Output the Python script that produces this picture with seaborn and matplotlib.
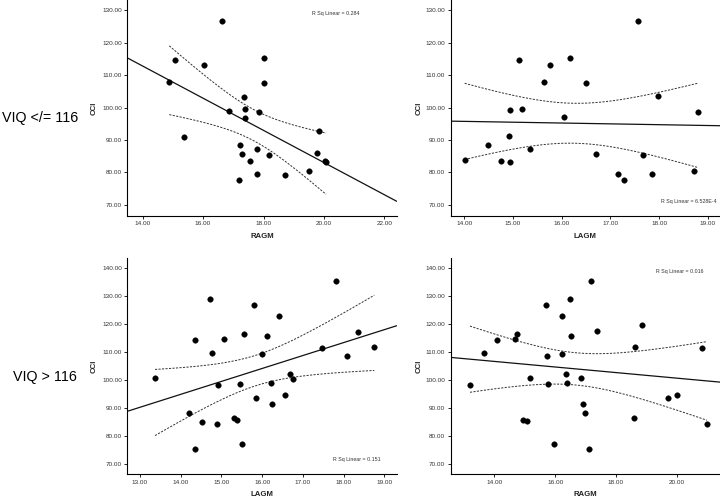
import numpy as np
import pandas as pd
import matplotlib
matplotlib.use("Agg")
import matplotlib.pyplot as plt
import seaborn as sns

# ---------------- data ----------------
# VIQ </= 116 : RAGM vs CCI
p1_x = [14.88, 15.08, 15.38, 16.03, 16.62, 16.87, 17.34, 17.39, 17.38, 17.23, 17.28, 17.19, 17.54,
        17.80, 17.78, 17.86, 18.00, 18.01, 18.17, 18.70, 19.50, 19.76, 19.83, 20.04, 20.07]
p1_y = [107.8, 114.6, 91.0, 113.0, 126.5, 99.0, 103.3, 99.5, 96.9, 88.5, 85.6, 77.7, 83.4,
        87.1, 79.5, 98.5, 115.1, 107.4, 85.4, 79.2, 80.4, 85.9, 92.8, 83.6, 83.2]
# VIQ </= 116 : LAGM vs CCI
p2_x = [14.01, 14.49, 14.75, 14.92, 14.94, 14.94, 15.13, 15.19, 15.35, 15.64, 15.77, 16.05,
        16.18, 16.51, 16.70, 17.15, 17.28, 17.57, 17.68, 17.86, 17.97, 18.71, 18.80]
p2_y = [83.8, 88.6, 83.6, 91.2, 99.1, 83.3, 114.6, 99.6, 87.2, 107.9, 113.0, 97.0,
        115.2, 107.5, 85.7, 79.6, 77.8, 126.5, 85.5, 79.4, 103.4, 80.5, 98.7]
# VIQ > 116 : LAGM vs CCI
p3_x = [13.37, 14.20, 14.34, 14.35, 14.52, 14.72, 14.78, 14.89, 14.91, 15.07, 15.31, 15.39,
        15.45, 15.51, 15.55, 15.81, 15.86, 15.99, 16.12, 16.22, 16.23, 16.41, 16.56, 16.68,
        16.75, 17.46, 17.81, 18.09, 18.34, 18.75]
p3_y = [100.6, 88.2, 114.2, 75.3, 85.0, 129.0, 109.5, 84.2, 98.2, 114.7, 86.2, 85.5,
        98.4, 77.2, 116.5, 126.7, 93.5, 109.2, 115.6, 98.9, 91.5, 122.9, 94.5, 102.1,
        100.5, 111.3, 135.5, 108.6, 117.3, 111.9]
# VIQ > 116 : RAGM vs CCI
p4_x = [13.20, 13.65, 14.09, 14.69, 14.75, 14.95, 15.08, 15.16, 15.72, 15.71, 15.75, 15.97,
        16.24, 16.24, 16.35, 16.38, 16.49, 16.53, 16.86, 16.93, 16.98, 17.10, 17.18, 17.38,
        18.60, 18.61, 18.87, 19.72, 20.00, 20.84, 20.99]
p4_y = [98.2, 109.5, 114.3, 114.7, 116.5, 85.5, 85.2, 100.6, 108.7, 126.7, 98.4, 77.2,
        123.0, 109.2, 102.1, 98.9, 129.0, 115.6, 100.6, 91.5, 88.2, 75.3, 135.6, 117.4,
        86.2, 111.8, 119.8, 93.5, 94.5, 111.3, 84.2]

x_labels = ["RAGM", "LAGM", "LAGM", "RAGM"]
y_label = "CCI"
r2_texts = ["R Sq Linear = 0.284", "R Sq Linear = 6.528E-4",
            "R Sq Linear = 0.151", "R Sq Linear = 0.016"]
row_labels = ["VIQ </= 116", "VIQ > 116"]
x_ticks = [[14, 16, 18, 20, 22], [14, 15, 16, 17, 18, 19],
           [13, 14, 15, 16, 17, 18, 19], [14, 16, 18, 20]]
y_ticks_top = [70, 80, 90, 100, 110, 120, 130]
y_ticks_bot = [70, 80, 90, 100, 110, 120, 130, 140]

# ---------------- style ----------------
sns.set_theme(style="white")
plt.rcParams["font.family"] = ["Liberation Sans", "DejaVu Sans"]

W, H = 720, 497
fig = plt.figure(figsize=(W / 100, H / 100), dpi=100)
fig.patch.set_facecolor("white")


def px_axes(left, right, top, bottom):
    return fig.add_axes([left / W, 1 - bottom / H, (right - left) / W, (bottom - top) / H])


def t975(df):
    z = 1.959964
    return (z + (z**3 + z) / (4 * df) + (5 * z**5 + 16 * z**3 + 3 * z) / (96 * df**2)
            + (3 * z**7 + 19 * z**5 + 17 * z**3 - 15 * z) / (384 * df**3))


panels = [
    dict(x=p1_x, y=p1_y, box=(127.3, 396.7, 0, 216), xlim=(13.49, 22.41), ylim=(66.6, 133.1),
         yt=y_ticks_top, txt=(336, 14), ylab_px=98),
    dict(x=p2_x, y=p2_y, box=(450.5, 720, 0, 216), xlim=(13.72, 19.25), ylim=(66.6, 133.1),
         yt=y_ticks_top, txt=(689, 201), ylab_px=423),
    dict(x=p3_x, y=p3_y, box=(127.3, 396.7, 258.3, 474.3), xlim=(12.69, 19.30), ylim=(66.2, 143.6),
         yt=y_ticks_bot, txt=(357, 459), ylab_px=98),
    dict(x=p4_x, y=p4_y, box=(450.5, 720, 258.3, 474.3), xlim=(12.56, 21.42), ylim=(66.2, 143.6),
         yt=y_ticks_bot, txt=(680, 271), ylab_px=423),
]

for i, p in enumerate(panels):
    l, r, t, b = p["box"]
    ax = px_axes(l, r, t, b)
    ax.set_facecolor("white")
    df = pd.DataFrame({"x": p["x"], "y": p["y"]})

    ax.set_xlim(*p["xlim"])
    ax.set_ylim(*p["ylim"])

    # regression fit over full axis, CI over data range
    x = np.asarray(p["x"], float)
    y = np.asarray(p["y"], float)
    n = len(x)
    slope, icpt = np.polyfit(x, y, 1)
    resid = y - (slope * x + icpt)
    s = np.sqrt(np.sum(resid**2) / (n - 2))
    sxx = np.sum((x - x.mean())**2)
    xf = np.linspace(p["xlim"][0], p["xlim"][1], 50)
    ax.plot(xf, slope * xf + icpt, color="#111111", lw=0.9, zorder=2)
    xc = np.linspace(x.min(), x.max(), 100)
    yc = slope * xc + icpt
    half = t975(n - 2) * s * np.sqrt(1 / n + (xc - x.mean())**2 / sxx)
    for sign in (1, -1):
        ax.plot(xc, yc + sign * half, color="#333333", lw=0.7, ls=(0, (2.2, 1.4)), zorder=2)

    sns.scatterplot(data=df, x="x", y="y", ax=ax, color="black", s=16, edgecolor="black",
                    linewidth=0.3, zorder=3, legend=False)

    ax.set_xlim(*p["xlim"])
    ax.set_ylim(*p["ylim"])
    ax.set_xticks(x_ticks[i])
    ax.set_yticks(p["yt"])
    ax.set_xticklabels([f"{v:.2f}" for v in x_ticks[i]])
    ax.set_yticklabels([f"{v:.2f}" for v in p["yt"]])
    ax.tick_params(axis="both", which="both", direction="out", length=2.4, width=0.6,
                   labelsize=4.6, pad=1.5, colors="black", labelcolor="#333333",
                   bottom=True, left=True)
    for side in ("top", "right"):
        ax.spines[side].set_visible(False)
    for side in ("left", "bottom"):
        ax.spines[side].set_visible(True)
        ax.spines[side].set_color("black")
        ax.spines[side].set_linewidth(0.8)

    ax.set_xlabel(x_labels[i], fontsize=5.6, fontweight="bold", color="#222222")
    ax.set_ylabel(y_label, fontsize=5.6, fontweight="bold", color="#222222")
    hb = b - t
    wb = r - l
    ax.xaxis.set_label_coords(0.5, -(233 - 216) / hb)
    ax.yaxis.set_label_coords((p["ylab_px"] - l) / wb, 0.5)

    tx, ty = p["txt"]
    ax.text((tx - l) / wb, (b - ty) / hb, r2_texts[i], transform=ax.transAxes,
            fontsize=3.8, ha="center", va="center", color="#333333")

fig.text(40 / W, 1 - 118 / H, row_labels[0], fontsize=10.3, ha="center", va="center", color="black")
fig.text(45 / W, 1 - 377 / H, row_labels[1], fontsize=10.3, ha="center", va="center", color="black")

fig.savefig("out.png", dpi=100, facecolor="white")
